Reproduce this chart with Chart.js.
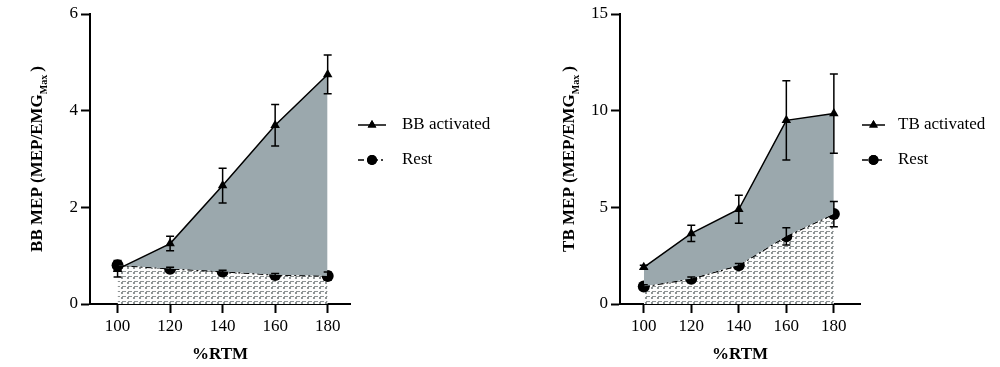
<!DOCTYPE html>
<html>
<head>
<meta charset="utf-8">
<script src="https://cdn.jsdelivr.net/npm/chart.js@4"></script>
<style>
  body { margin: 0; background: #fff; }
  .wrap { display: flex; width: 1000px; height: 367px; }
  .box { position: relative; width: 500px; height: 367px; }
</style>
</head>
<body>
<div class="wrap">
  <div class="box"><canvas id="bbChart"></canvas></div>
  <div class="box"><canvas id="tbChart"></canvas></div>
</div>
<script>
// data
const rtm = [100, 120, 140, 160, 180];

const bbActivated = [0.72, 1.25, 2.45, 3.7, 4.75];
const bbActivatedErr = [0.16, 0.15, 0.36, 0.43, 0.4];
const bbRest = [0.8, 0.73, 0.67, 0.6, 0.58];
const bbRestErr = [0.1, 0.03, 0.03, 0.03, 0.08];

const tbActivated = [1.9, 3.65, 4.9, 9.5, 9.85];
const tbActivatedErr = [0.1, 0.42, 0.72, 2.05, 2.05];
const tbRest = [0.9, 1.3, 2.0, 3.5, 4.65];
const tbRestErr = [0.1, 0.1, 0.1, 0.45, 0.65];

const serif = "'Liberation Serif', serif";
const areaGrey = "#9ba8ad";

// hatch pattern for the area under Rest
function makeHatch() {
  const c = document.createElement("canvas");
  c.width = 6;
  c.height = 5;
  const g = c.getContext("2d");
  g.fillStyle = "#fcfcfc";
  g.fillRect(0, 0, 6, 5);
  g.fillStyle = "#8d9394";
  g.fillRect(2, 1, 4, 1);
  g.fillRect(1, 2, 2, 1);
  g.fillRect(1, 3, 2, 1);
  return g.createPattern(c, "repeat");
}

// error bars drawn through the chart scales
const errorBars = {
  id: "errorBars",
  afterDatasetsDraw(chart, args, opts) {
    const ctx = chart.ctx;
    const y = chart.scales.y;
    ctx.save();
    ctx.strokeStyle = "#000";
    ctx.lineWidth = 1.5;
    opts.sets.forEach((errs, i) => {
      const meta = chart.getDatasetMeta(i);
      const vals = chart.data.datasets[i].data;
      meta.data.forEach((pt, j) => {
        const top = y.getPixelForValue(vals[j].y + errs[j]);
        const bot = y.getPixelForValue(vals[j].y - errs[j]);
        ctx.beginPath();
        ctx.moveTo(pt.x, top);
        ctx.lineTo(pt.x, bot);
        ctx.moveTo(pt.x - 4, top);
        ctx.lineTo(pt.x + 4, top);
        ctx.moveTo(pt.x - 4, bot);
        ctx.lineTo(pt.x + 4, bot);
        ctx.stroke();
      });
    });
    ctx.restore();
  },
};

// rotated y title with subscript
const yTitle = {
  id: "yTitle",
  afterDraw(chart, args, opts) {
    const ctx = chart.ctx;
    const area = chart.chartArea;
    ctx.save();
    ctx.translate(opts.x, (area.top + area.bottom) / 2);
    ctx.rotate(-Math.PI / 2);
    ctx.fillStyle = "#000";
    ctx.textBaseline = "middle";
    const big = "bold 17px " + serif;
    const small = "bold 10px " + serif;
    ctx.font = big;
    const w1 = ctx.measureText(opts.main).width;
    const w3 = ctx.measureText(")").width;
    ctx.font = small;
    const w2 = ctx.measureText(opts.sub).width;
    let x = -(w1 + w2 + w3 + 3) / 2;
    ctx.font = big;
    ctx.fillText(opts.main, x, 0);
    x += w1;
    ctx.font = small;
    ctx.fillText(opts.sub, x, 6);
    x += w2 + 3;
    ctx.font = big;
    ctx.fillText(")", x, 0);
    ctx.restore();
  },
};

// legend: line + marker + label, right of the plot
const sideLegend = {
  id: "sideLegend",
  afterDraw(chart, args, opts) {
    const ctx = chart.ctx;
    const x0 = chart.chartArea.right + opts.dx;
    ctx.save();
    chart.data.datasets.forEach((ds, i) => {
      const yy = opts.y + i * 35;
      ctx.strokeStyle = "#000";
      ctx.lineWidth = 1.5;
      ctx.setLineDash(ds.borderDash || []);
      ctx.beginPath();
      ctx.moveTo(x0, yy);
      ctx.lineTo(x0 + opts.len, yy);
      ctx.stroke();
      ctx.setLineDash([]);
      ctx.fillStyle = "#000";
      Chart.helpers.drawPoint(ctx, { pointStyle: ds.pointStyle, radius: 5, borderWidth: 0 }, x0 + opts.len / 2, yy);
      ctx.fill();
      ctx.font = "17px " + serif;
      ctx.textBaseline = "middle";
      ctx.fillText(ds.label, x0 + opts.textOff, yy);
    });
    ctx.restore();
  },
};

function toPoints(vals) {
  return vals.map((v, i) => ({ x: rtm[i], y: v }));
}

function makeChart(id, cfg) {
  const axisStyle = {
    border: { display: true, color: "#000", width: 2 },
    grid: {
      display: true,
      drawOnChartArea: false,
      drawTicks: true,
      tickLength: 9,
      tickColor: "#000",
      tickWidth: 2,
    },
    ticks: { color: "#000", font: { family: serif, size: 17 }, padding: 3 },
  };
  return new Chart(document.getElementById(id), {
    type: "line",
    data: {
      datasets: [
        {
          label: cfg.names[0],
          data: toPoints(cfg.active),
          borderColor: "#000",
          borderWidth: 1.5,
          pointStyle: "triangle",
          pointRadius: 5.5,
          pointBackgroundColor: "#000",
          pointBorderWidth: 0,
          tension: 0,
          fill: { target: "+1", above: areaGrey, below: "rgba(0,0,0,0)" },
        },
        {
          label: cfg.names[1],
          data: toPoints(cfg.rest),
          borderColor: "#000",
          borderWidth: 1.5,
          borderDash: [6, 3, 2, 3],
          pointStyle: "circle",
          pointRadius: 6,
          pointBackgroundColor: "#000",
          pointBorderWidth: 0,
          tension: 0,
          backgroundColor: makeHatch(),
          fill: "origin",
        },
      ],
    },
    options: {
      responsive: true,
      maintainAspectRatio: false,
      animation: false,
      layout: { padding: { top: 14, right: cfg.padRight, left: 0, bottom: 0 } },
      plugins: {
        legend: { display: false },
        tooltip: { enabled: false },
        errorBars: { sets: [cfg.activeErr, cfg.restErr] },
        yTitle: { main: cfg.yMain, sub: "Max", x: cfg.titleX },
        sideLegend: cfg.legend,
      },
      scales: {
        x: {
          type: "linear",
          min: cfg.xMin,
          max: cfg.xMax,
          ...axisStyle,
          afterBuildTicks: (s) => {
            s.ticks = rtm.map((v) => ({ value: v }));
          },
          afterFit: (s) => {
            s.height = 63;
          },
          title: {
            display: true,
            text: "%RTM",
            color: "#000",
            font: { family: serif, size: 17, weight: "bold" },
            padding: { top: 0, bottom: 2 },
          },
        },
        y: {
          min: 0,
          max: cfg.yMax,
          ...axisStyle,
          ticks: { ...axisStyle.ticks, stepSize: cfg.yStep },
          afterFit: (s) => {
            s.width = cfg.yWidth;
          },
        },
      },
    },
    plugins: [errorBars, yTitle, sideLegend],
  });
}

makeChart("bbChart", {
  names: ["BB activated", "Rest"],
  active: bbActivated,
  activeErr: bbActivatedErr,
  rest: bbRest,
  restErr: bbRestErr,
  xMin: 89.5,
  xMax: 188.5,
  yMax: 6,
  yStep: 2,
  yWidth: 90,
  padRight: 150,
  titleX: 38,
  yMain: "BB MEP (MEP/EMG",
  legend: { dx: 8, len: 28, textOff: 44, y: 125 },
});

makeChart("tbChart", {
  names: ["TB activated", "Rest"],
  active: tbActivated,
  activeErr: tbActivatedErr,
  rest: tbRest,
  restErr: tbRestErr,
  xMin: 90,
  xMax: 191,
  yMax: 15,
  yStep: 5,
  yWidth: 120,
  padRight: 140,
  titleX: 70,
  yMain: "TB MEP (MEP/EMG",
  legend: { dx: 2, len: 23, textOff: 36, y: 125 },
});
</script>
</body>
</html>
